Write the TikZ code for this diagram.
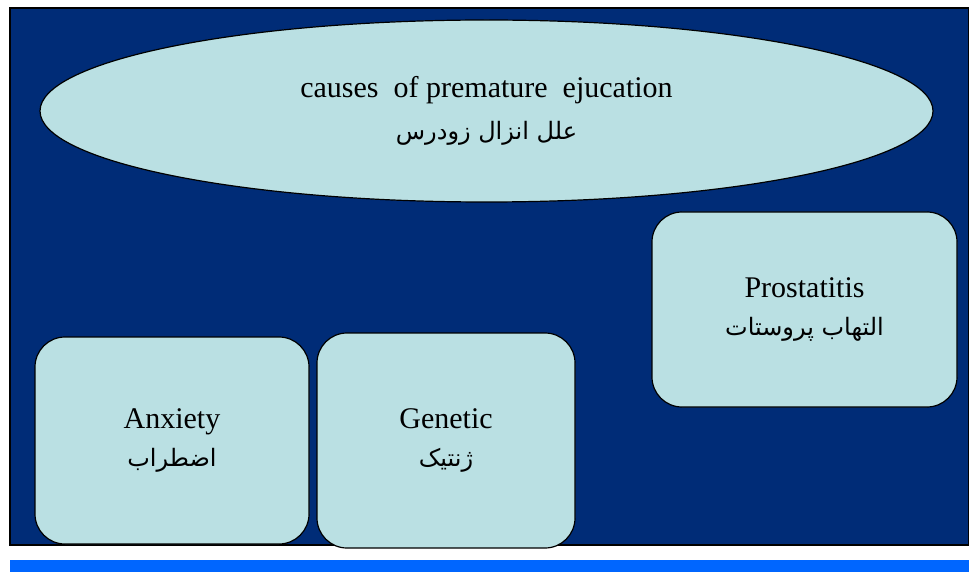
\documentclass[tikz,border=0pt]{standalone}
\usepackage{fontspec}
\setmainfont{Liberation Serif}
\newfontfamily\persianfont[Script=Arabic]{DejaVu Sans}
\TeXXeTstate=1
\usepackage{tikz}
\usetikzlibrary{shapes.geometric}
\definecolor{bgblue}{HTML}{002C77}
\definecolor{boxfill}{HTML}{BAE0E3}
\definecolor{stripeblue}{HTML}{0066FF}
\tikzset{
  causebox/.style={draw=black, line width=0.6pt, fill=boxfill, rounded corners=15pt,
    align=center, inner sep=0pt, font=\fontsize{15}{19}\selectfont},
  causetitle/.style={draw=black, line width=0.6pt, fill=boxfill, ellipse,
    align=center, inner sep=0pt, font=\fontsize{15}{21}\selectfont}
}

\begin{document}
\begin{tikzpicture}[x=0.5pt,y=-0.5pt]
% Ursachen / causes of premature ejaculation
\useasboundingbox (0,0) rectangle (969,572);
\draw[fill=bgblue, line width=0.8pt] (10,8) rectangle (969,545);
\fill[stripeblue] (10,560) rectangle (969,572);
\node (causes) at (486.5,111) [causetitle, minimum width=446.5pt, minimum height=91pt]
  {causes\ \ of premature\ \ ejucation\\{\persianfont\fontsize{12}{21}\selectfont\beginR علل انزال زودرس\endR}};
\node (anxiety) at (172,440.5) [causebox, minimum width=137pt, minimum height=103.5pt]
  {Anxiety\\{\persianfont\fontsize{12}{19}\selectfont\beginR اضطراب\endR}};
\node (genetic) at (446,440.5) [causebox, minimum width=129pt, minimum height=107.5pt]
  {Genetic\\{\persianfont\fontsize{12}{19}\selectfont\beginR ژنتیک\endR}};
\node (prostatitis) at (804.5,309.5) [causebox, minimum width=152.5pt, minimum height=97.5pt]
  {Prostatitis\\{\persianfont\fontsize{12}{19}\selectfont\beginR التهاب پروستات\endR}};
\end{tikzpicture}
\end{document}
